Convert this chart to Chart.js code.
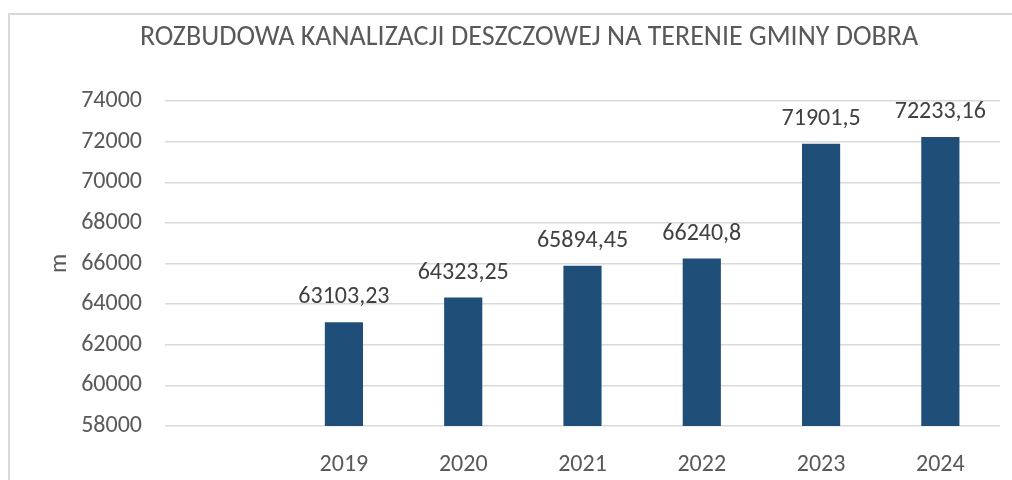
<!DOCTYPE html>
<html>
<head>
<meta charset="utf-8">
<script src="https://cdn.jsdelivr.net/npm/chart.js@4.4.0/dist/chart.umd.min.js"></script>
<style>
  html, body { margin: 0; padding: 0; background: #fff; }
  #frame { position: absolute; left: 8px; top: 13px; width: 1010px; height: 470px;
           border-top: 2px solid #d9d9d9; border-left: 2px solid #d9d9d9; }
  #wrap { position: absolute; left: 0; top: 0; width: 1012px; height: 480px; }
</style>
</head>
<body>
<div id="frame"></div>
<div id="wrap"><canvas id="chart" width="1012" height="480"></canvas></div>
<script>
const FONT = "Carlito, 'Liberation Sans Narrow', 'Open Sans', sans-serif";
const TEXT_COLOR = '#595959';

const chartTitle = 'ROZBUDOWA KANALIZACJI DESZCZOWEJ NA TERENIE GMINY DOBRA';
const years = ['', '2019', '2020', '2021', '2022', '2023', '2024'];
const lengths = [null, 63103.23, 64323.25, 65894.45, 66240.8, 71901.5, 72233.16];
const yMin = 58000;
const yMax = 74000;
const yStep = 2000;

function plFormat(v) {
    return String(v).replace('.', ',');
}

// tytul wykresu - wysrodkowany jak w oryginale (nad calym polem ramki)
const titleText = {
    id: 'titleText',
    afterDraw(chart) {
        const ctx = chart.ctx;
        ctx.save();
        ctx.font = '28px ' + FONT;
        ctx.fillStyle = TEXT_COLOR;
        ctx.textAlign = 'center';
        ctx.textBaseline = 'middle';
        ctx.fillText(chartTitle, 529, 38);
        ctx.restore();
    }
};

// etykiety wartosci nad slupkami
const valueLabels = {
    id: 'valueLabels',
    afterDatasetsDraw(chart) {
        const ctx = chart.ctx;
        const meta = chart.getDatasetMeta(0);
        ctx.save();
        ctx.font = '24px ' + FONT;
        ctx.fillStyle = '#404040';
        ctx.textAlign = 'center';
        ctx.textBaseline = 'middle';
        meta.data.forEach((bar, i) => {
            const v = lengths[i];
            if (v === null) return;
            ctx.fillText(plFormat(v), bar.x, bar.y - 25);
        });
        ctx.restore();
    }
};

new Chart(document.getElementById('chart'), {
    type: 'bar',
    data: {
        labels: years,
        datasets: [{
            data: lengths,
            backgroundColor: '#1f4e79',
            borderColor: '#1f4e79',
            barPercentage: 0.32,
            categoryPercentage: 1
        }]
    },
    options: {
        responsive: false,
        animation: false,
        layout: { padding: { left: 46, right: 12, top: 101, bottom: 0 } },
        plugins: {
            legend: { display: false },
            tooltip: { enabled: false },
            title: { display: false }
        },
        scales: {
            x: {
                grid: { display: false },
                border: { display: false },
                ticks: { color: TEXT_COLOR, font: { family: FONT, size: 24 }, padding: 17 },
                afterFit(scale) { scale.height = 54; }
            },
            y: {
                min: yMin,
                max: yMax,
                ticks: {
                    stepSize: yStep,
                    color: TEXT_COLOR,
                    font: { family: FONT, size: 24 },
                    padding: 23,
                    callback: v => String(v)
                },
                grid: { color: '#d9d9d9', lineWidth: 1.5, drawTicks: false },
                border: { display: false },
                title: { display: true, text: 'm', color: TEXT_COLOR, font: { family: FONT, size: 24 }, padding: 0 },
                afterFit(scale) { scale.width = 119; }
            }
        }
    },
    plugins: [valueLabels, titleText]
});
</script>
</body>
</html>
